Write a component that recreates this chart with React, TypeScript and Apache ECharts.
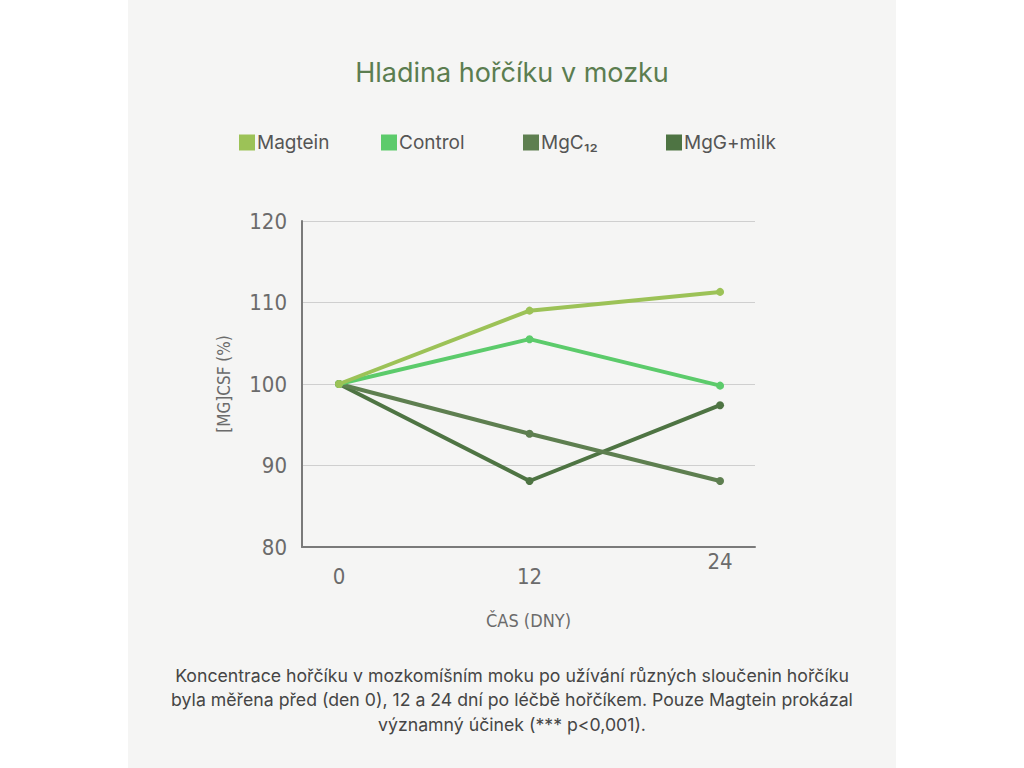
import React, { useEffect, useRef } from "react";
import * as echarts from "echarts";

const days = [0, 12, 24];
const magtein = [100, 109.0, 111.3];
const control = [100, 105.5, 99.8];
const mgc12 = [100, 93.9, 88.1];
const mggMilk = [100, 88.1, 97.4];
const seriesNames = ["Magtein", "Control", "MgC₁₂", "MgG+milk"];
const seriesColors = ["#9cc257", "#5ccb6b", "#5e7f50", "#4e7443"];
const yTicks = [80, 90, 100, 110, 120];
const titleText = "Hladina hořčíku v mozku";
const xName = "ČAS (DNY)";
const yName = "[MG]CSF (%)";
const caption =
  "Koncentrace hořčíku v mozkomíšním moku po užívání různých sloučenin hořčíku\nbyla měřena před (den 0), 12 a 24 dní po léčbě hořčíkem. Pouze Magtein prokázal\nvýznamný účinek (*** p<0,001).";

const narrow = "'Liberation Sans Narrow', 'DejaVu Sans Condensed', Roboto, sans-serif";
const sans = "Inter, 'Noto Sans', sans-serif";

export default function App() {
  const ref = useRef<HTMLDivElement>(null);
  useEffect(() => {
    if (!ref.current) return;
    const chart = echarts.init(ref.current, undefined, { renderer: "svg" });
    const allData = [magtein, control, mgc12, mggMilk];
    const xMin = -2.33;
    const xMax = 26.2;
    const axisLabelStyle = {
      color: "#6b6b6b",
      fontFamily: narrow,
      fontSize: 22,
    };
    const legendLefts = [234, 376, 518, 661];
    chart.setOption({
      animation: false,
      backgroundColor: "#ffffff",
      graphic: [
        {
          type: "rect",
          z: -10,
          shape: { x: 128, y: 0, width: 768, height: 768 },
          style: { fill: "#f5f5f4" },
          silent: true,
        },
        {
          type: "text",
          x: 512,
          y: 663,
          style: {
            text: caption,
            fill: "#454545",
            font: `17.7px ${sans}`,
            textAlign: "center",
            textVerticalAlign: "top",
            lineHeight: 24.5,
          },
        },
      ],
      title: {
        text: titleText,
        left: "center",
        top: 54,
        textStyle: {
          color: "#5b7d50",
          fontFamily: sans,
          fontWeight: "normal",
          fontSize: 27,
        },
      },
      legend: seriesNames.map((name, i) => ({
        left: legendLefts[i],
        top: 128,
        itemWidth: 16,
        itemHeight: 16,
        icon: "rect",
        data: [name],
        textStyle: {
          color: "#555555",
          fontFamily: sans,
          fontSize: 19,
          padding: [0, 0, 0, -3],
        },
      })),
      grid: { left: 302, top: 221, width: 453, height: 326, containLabel: false },
      xAxis: [
        {
          type: "value",
          min: xMin,
          max: xMax,
          name: xName,
          nameLocation: "middle",
          nameGap: 64,
          nameTextStyle: { color: "#6b6b6b", fontFamily: narrow, fontSize: 18 },
          axisLine: { show: true, onZero: false, lineStyle: { color: "#7a7a7a", width: 2 } },
          axisTick: { show: false },
          splitLine: { show: false },
          axisLabel: {
            ...axisLabelStyle,
            customValues: days.slice(0, 2),
            margin: 18,
            formatter: (v: number) => String(v),
          },
        },
        {
          type: "value",
          min: xMin,
          max: xMax,
          position: "bottom",
          axisLine: { show: false },
          axisTick: { show: false },
          splitLine: { show: false },
          axisLabel: {
            ...axisLabelStyle,
            customValues: days.slice(2),
            margin: 3,
            formatter: (v: number) => String(v),
          },
        },
      ],
      yAxis: {
        type: "value",
        min: yTicks[0],
        max: yTicks[yTicks.length - 1],
        interval: 10,
        name: yName,
        nameLocation: "middle",
        nameRotate: 90,
        nameGap: 70,
        nameTextStyle: { color: "#6b6b6b", fontFamily: narrow, fontSize: 17 },
        axisLine: { show: true, onZero: false, lineStyle: { color: "#7a7a7a", width: 2 } },
        axisTick: { show: false },
        axisLabel: { ...axisLabelStyle, margin: 15 },
        splitLine: { show: true, lineStyle: { color: "#cfcfcf", width: 1.2 } },
      },
      series: seriesNames.map((name, i) => ({
        name,
        type: "line",
        xAxisIndex: 0,
        data: days.map((d, j) => [d, allData[i][j]]),
        color: seriesColors[i],
        lineStyle: { width: 4, color: seriesColors[i] },
        itemStyle: { color: seriesColors[i] },
        symbol: "circle",
        symbolSize: 8,
        showSymbol: true,
        z: 10 - i,
      })),
    });
    return () => chart.dispose();
  }, []);
  return (
    <div
      ref={ref}
      style={{ position: "fixed", left: 0, top: 0, width: 1024, height: 768, background: "#ffffff" }}
    />
  );
}
